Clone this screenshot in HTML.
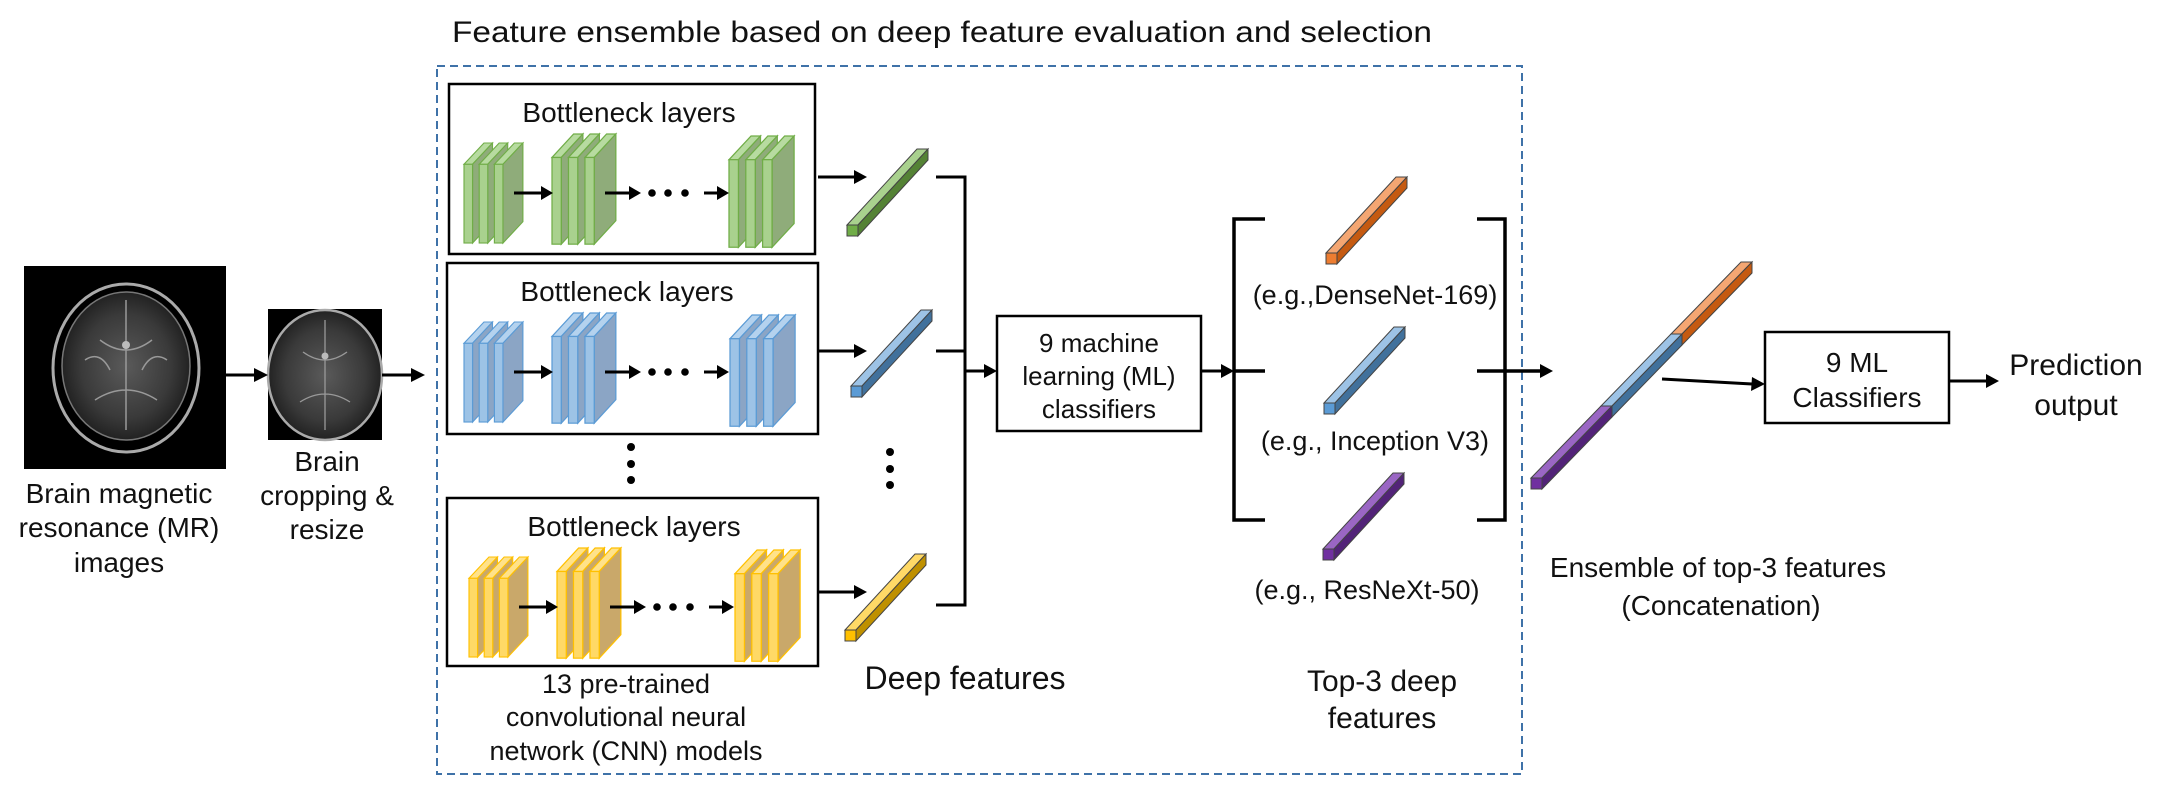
<!DOCTYPE html>
<html><head><meta charset="utf-8"><style>
html,body{margin:0;padding:0;background:#fff;}
svg{display:block;}
text{font-family:"Liberation Sans","Noto Sans CJK KR",sans-serif;fill:#111;}
</style></head><body>
<svg width="2164" height="797" viewBox="0 0 2164 797" xmlns="http://www.w3.org/2000/svg">
<defs>
  <g id="slabs" stroke="var(--s)" stroke-width="1.2">
    <g>
      <polygon points="0,23 21,0 30,0 9,23" fill="var(--t)"/>
      <polygon points="9,23 30,0 30,85 9,108" fill="var(--d)"/>
      <rect x="0" y="23" width="9" height="85" fill="var(--f)"/>
    </g>
    <g transform="translate(16,0)">
      <polygon points="0,23 21,0 30,0 9,23" fill="var(--t)"/>
      <polygon points="9,23 30,0 30,85 9,108" fill="var(--d)"/>
      <rect x="0" y="23" width="9" height="85" fill="var(--f)"/>
    </g>
    <g transform="translate(32,0)">
      <polygon points="0,23 21,0 30,0 9,23" fill="var(--t)"/>
      <polygon points="9,23 30,0 30,85 9,108" fill="var(--d)"/>
      <rect x="0" y="23" width="9" height="85" fill="var(--f)"/>
    </g>
  </g>
  <g id="bar" stroke="#444" stroke-width="1">
    <polygon points="0,-11 70,-87 81,-87 11,-11" fill="var(--t)"/>
    <polygon points="11,-11 81,-87 81,-76 11,0" fill="var(--d)"/>
    <rect x="0" y="-11" width="11" height="11" fill="var(--f)"/>
  </g>
  <g id="seg" stroke="#444" stroke-width="1">
    <polygon points="0,-11 70,-83 81,-83 11,-11" fill="var(--t)"/>
    <polygon points="11,-11 81,-83 81,-72 11,0" fill="var(--d)"/>
  </g>
  <radialGradient id="brain" cx="50%" cy="50%" r="50%">
    <stop offset="0" stop-color="#5a5a5a"/>
    <stop offset="0.7" stop-color="#3a3a3a"/>
    <stop offset="1" stop-color="#222"/>
  </radialGradient>
</defs>

<text x="452" y="42" font-size="30" textLength="980" lengthAdjust="spacingAndGlyphs">Feature ensemble based on deep feature evaluation and selection</text>

<rect x="437" y="66" width="1085" height="708" fill="none" stroke="#3f72a8" stroke-width="2" stroke-dasharray="8,5"/>

<rect x="24" y="266" width="202" height="203" fill="#000"/>
<ellipse cx="126" cy="368" rx="73" ry="84" fill="none" stroke="#aaa" stroke-width="3"/>
<ellipse cx="126" cy="366" rx="64" ry="74" fill="url(#brain)" stroke="#777" stroke-width="1.5"/>
<path d="M126 300 L126 430 M100 340 Q126 360 152 340 M95 400 Q126 380 157 400 M85 360 Q100 350 110 370 M167 360 Q152 350 142 370" stroke="#999" stroke-width="1.5" fill="none"/>
<circle cx="126" cy="345" r="4" fill="#bbb"/>

<rect x="268" y="309" width="114" height="131" fill="#000"/>
<ellipse cx="325" cy="375" rx="57" ry="65" fill="url(#brain)" stroke="#aaa" stroke-width="2.5"/>
<path d="M325 320 L325 430 M303 352 Q325 368 347 352 M300 402 Q325 386 350 402" stroke="#999" stroke-width="1.3" fill="none"/>
<circle cx="325" cy="356" r="3.5" fill="#bbb"/>

<g stroke="#000" stroke-width="3" fill="#000">
  <line x1="226" y1="375" x2="256" y2="375"/>
  <polygon points="268,375 254,368 254,382" stroke="none"/>
  <line x1="382" y1="375" x2="413" y2="375"/>
  <polygon points="425,375 411,368 411,382" stroke="none"/>
</g>

<g font-size="28" text-anchor="middle">
  <text x="119" y="503">Brain magnetic</text>
  <text x="119" y="537">resonance (MR)</text>
  <text x="119" y="572">images</text>
  <text x="327" y="471">Brain</text>
  <text x="327" y="505">cropping &amp;</text>
  <text x="327" y="539">resize</text>
</g>

<g fill="none" stroke="#000" stroke-width="2.5">
  <rect x="449" y="84" width="366" height="170"/>
  <rect x="447" y="263" width="371" height="171"/>
  <rect x="447" y="498" width="371" height="168"/>
</g>
<g font-size="28" text-anchor="middle">
  <text x="629" y="122">Bottleneck layers</text>
  <text x="627" y="301">Bottleneck layers</text>
  <text x="634" y="536">Bottleneck layers</text>
</g>

<g style="--f:#a9d18e;--t:#b7dba0;--d:#8fac7a;--s:#70ad47">
  <use href="#slabs" transform="translate(464,143) scale(0.95,0.926)"/>
  <use href="#slabs" transform="translate(552,134) scale(1.03,1.02)"/>
  <use href="#slabs" transform="translate(729,136) scale(1.05,1.03)"/>
</g>
<g style="--f:#9dc3e6;--t:#b4d2ee;--d:#8ba5c5;--s:#5b9bd5">
  <use href="#slabs" transform="translate(464,322) scale(0.95,0.926)"/>
  <use href="#slabs" transform="translate(552,313) scale(1.03,1.02)"/>
  <use href="#slabs" transform="translate(730,315) scale(1.05,1.03)"/>
</g>
<g style="--f:#ffd966;--t:#ffe28a;--d:#c9a86a;--s:#ffc000">
  <use href="#slabs" transform="translate(469,557) scale(0.95,0.926)"/>
  <use href="#slabs" transform="translate(557,548) scale(1.03,1.02)"/>
  <use href="#slabs" transform="translate(735,550) scale(1.05,1.03)"/>
</g>

<g id="inner">
  <g stroke="#000" stroke-width="3">
    <line x1="514" y1="193" x2="542" y2="193"/>
    <line x1="605" y1="193" x2="630" y2="193"/>
    <line x1="704" y1="193" x2="718" y2="193"/>
  </g>
  <polygon points="553,193 541,186 541,200"/>
  <polygon points="641,193 629,186 629,200"/>
  <polygon points="729,193 717,186 717,200"/>
  <circle cx="652" cy="193" r="3.8"/><circle cx="668" cy="193" r="3.8"/><circle cx="685" cy="193" r="3.8"/>
</g>
<use href="#inner" transform="translate(0,179)"/>
<use href="#inner" transform="translate(5,414)"/>

<g fill="#000">
  <circle cx="631" cy="447" r="4"/><circle cx="631" cy="464" r="4"/><circle cx="631" cy="480" r="4"/>
  <circle cx="890" cy="452" r="4"/><circle cx="890" cy="469" r="4"/><circle cx="890" cy="485" r="4"/>
</g>

<g stroke="#000" stroke-width="3">
  <line x1="818" y1="177" x2="855" y2="177"/>
  <line x1="818" y1="351" x2="855" y2="351"/>
  <line x1="818" y1="592" x2="855" y2="592"/>
</g>
<polygon points="867,177 854,170 854,184"/>
<polygon points="867,351 854,344 854,358"/>
<polygon points="867,592 854,585 854,599"/>

<use href="#bar" transform="translate(847,236)" style="--f:#70ad47;--t:#a9d18e;--d:#548235"/>
<use href="#bar" transform="translate(851,397)" style="--f:#5b9bd5;--t:#9dc3e6;--d:#41719c"/>
<use href="#bar" transform="translate(845,641)" style="--f:#ffc000;--t:#ffd966;--d:#bf9000"/>

<g stroke="#000" stroke-width="3" fill="none">
  <polyline points="936,177 965,177 965,605 936,605"/>
  <line x1="936" y1="351" x2="965" y2="351"/>
  <line x1="965" y1="371" x2="985" y2="371"/>
</g>
<polygon points="997,371 984,364 984,378"/>

<text x="965" y="689" font-size="32" text-anchor="middle">Deep features</text>
<g font-size="27" text-anchor="middle">
  <text x="626" y="693">13 pre-trained</text>
  <text x="626" y="726">convolutional neural</text>
  <text x="626" y="760">network (CNN) models</text>
</g>

<rect x="997" y="316" width="204" height="115" fill="none" stroke="#000" stroke-width="2.5"/>
<g font-size="26" text-anchor="middle">
  <text x="1099" y="352">9 machine</text>
  <text x="1099" y="385">learning (ML)</text>
  <text x="1099" y="418">classifiers</text>
</g>
<line x1="1201" y1="371" x2="1222" y2="371" stroke="#000" stroke-width="3"/>
<polygon points="1234,371 1221,364 1221,378"/>

<g stroke="#000" stroke-width="3.5" fill="none">
  <polyline points="1265,219 1234,219 1234,520 1265,520"/>
  <line x1="1234" y1="371" x2="1265" y2="371"/>
  <polyline points="1477,219 1505,219 1505,520 1477,520"/>
  <line x1="1477" y1="371" x2="1541" y2="371"/>
</g>
<polygon points="1553,371 1540,364 1540,378"/>

<use href="#bar" transform="translate(1326,264)" style="--f:#ed7d31;--t:#f4a672;--d:#c55a11"/>
<use href="#bar" transform="translate(1324,414)" style="--f:#5b9bd5;--t:#9dc3e6;--d:#41719c"/>
<use href="#bar" transform="translate(1323,560)" style="--f:#7030a0;--t:#9a66c4;--d:#522378"/>
<g font-size="27" text-anchor="middle">
  <text x="1375" y="304">(e.g.,DenseNet-169)</text>
  <text x="1375" y="450">(e.g., Inception V3)</text>
  <text x="1367" y="599">(e.g., ResNeXt-50)</text>
</g>
<g font-size="30" text-anchor="middle">
  <text x="1382" y="691">Top-3 deep</text>
  <text x="1382" y="728">features</text>
</g>

<use href="#seg" transform="translate(1671,345)" style="--t:#f4a672;--d:#c55a11"/>
<use href="#seg" transform="translate(1601,417)" style="--t:#9dc3e6;--d:#41719c"/>
<use href="#seg" transform="translate(1531,489)" style="--t:#9a66c4;--d:#522378"/>
<rect x="1531" y="478" width="11" height="11" fill="#7030a0" stroke="#444" stroke-width="1"/>

<line x1="1662" y1="379" x2="1752" y2="384" stroke="#000" stroke-width="3"/>
<polygon points="1765,384 1752,377 1751,391"/>

<g font-size="28" text-anchor="middle">
  <text x="1718" y="577">Ensemble of top-3 features</text>
  <text x="1721" y="615">(Concatenation)</text>
</g>

<rect x="1765" y="332" width="184" height="91" fill="none" stroke="#000" stroke-width="2.5"/>
<g font-size="28" text-anchor="middle">
  <text x="1857" y="372">9 ML</text>
  <text x="1857" y="407">Classifiers</text>
</g>
<line x1="1949" y1="381" x2="1987" y2="381" stroke="#000" stroke-width="3"/>
<polygon points="1999,381 1986,374 1986,388"/>
<g font-size="30" text-anchor="middle">
  <text x="2076" y="375">Prediction</text>
  <text x="2076" y="415">output</text>
</g>
</svg>
</body></html>
